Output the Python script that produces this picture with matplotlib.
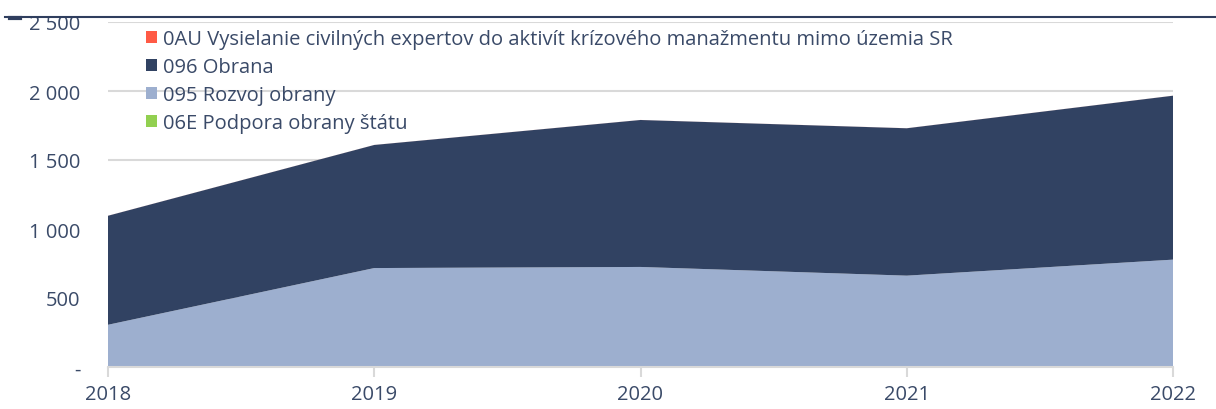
import matplotlib
matplotlib.use('Agg')
import matplotlib.pyplot as plt
from matplotlib.lines import Line2D
from matplotlib.ticker import FuncFormatter
import numpy as np

plt.rcParams['font.family'] = ['Open Sans', 'DejaVu Sans']

# data (mil. eur)
years = [2018, 2019, 2020, 2021, 2022]
p06E = [0.0, 0.0, 0.0, 0.0, 0.0]          # 06E Podpora obrany štátu
p095 = [306, 717, 725, 662, 778]          # 095 Rozvoj obrany
p096 = [790, 892, 1065, 1068, 1188]       # 096 Obrana
p0AU = [0.3, 0.3, 0.3, 0.3, 0.3]          # 0AU Vysielanie civilných expertov

labels = ['06E Podpora obrany štátu', '095 Rozvoj obrany', '096 Obrana',
          '0AU Vysielanie civilných expertov do aktivít krízového manažmentu mimo územia SR']
colors = ['#92D050', '#9DAFCF', '#314262', '#FF5A45']
txt = '#3A4A68'

fig = plt.figure(figsize=(12.16, 4.10), dpi=100)
ax = fig.add_axes([108/1216, 1-368/410, (1173-108)/1216, (368-23)/410])

ax.stackplot(years, p06E, p095, p096, p0AU, colors=colors, labels=labels, linewidth=0)

ax.set_xlim(2018, 2022)
ax.set_ylim(0, 2500)
ax.set_yticks(np.arange(0, 2501, 500))
ax.yaxis.set_major_formatter(FuncFormatter(lambda v, p: '-' if v == 0 else f'{int(v):,}'.replace(',', ' ')))
ax.set_xticks(years)
ax.grid(axis='y', color='#D9D9D9', linewidth=1.5)
ax.set_axisbelow(True)
for s in ['top', 'right', 'left']:
    ax.spines[s].set_visible(False)
ax.spines['bottom'].set_color('#D9D9D9')
ax.spines['bottom'].set_linewidth(1.5)
ax.tick_params(axis='y', length=0, pad=20, labelsize=14.5, labelcolor=txt)
ax.tick_params(axis='x', length=7, width=1.5, color='#D9D9D9', pad=5, labelsize=14.5, labelcolor=txt)

# legend in reverse order like Excel
h, l = ax.get_legend_handles_labels()
leg = ax.legend(h[::-1], l[::-1], loc='upper left', bbox_to_anchor=(0.026, 1.008), frameon=False,
                fontsize=14.5, handlelength=0.55, handleheight=0.55, handletextpad=0.3, labelspacing=0.4,
                borderaxespad=0.1)
for t in leg.get_texts():
    t.set_color(txt)

# cut-off title rule at the top
fig.add_artist(Line2D([5/1216, 1], [1-17.5/410]*2, color='#2F3E5E', linewidth=1.5))
fig.add_artist(Line2D([10/1216, 20/1216], [1-18.5/410]*2, color='#2F3E5E', linewidth=3))

fig.savefig('out.png', dpi=100)
